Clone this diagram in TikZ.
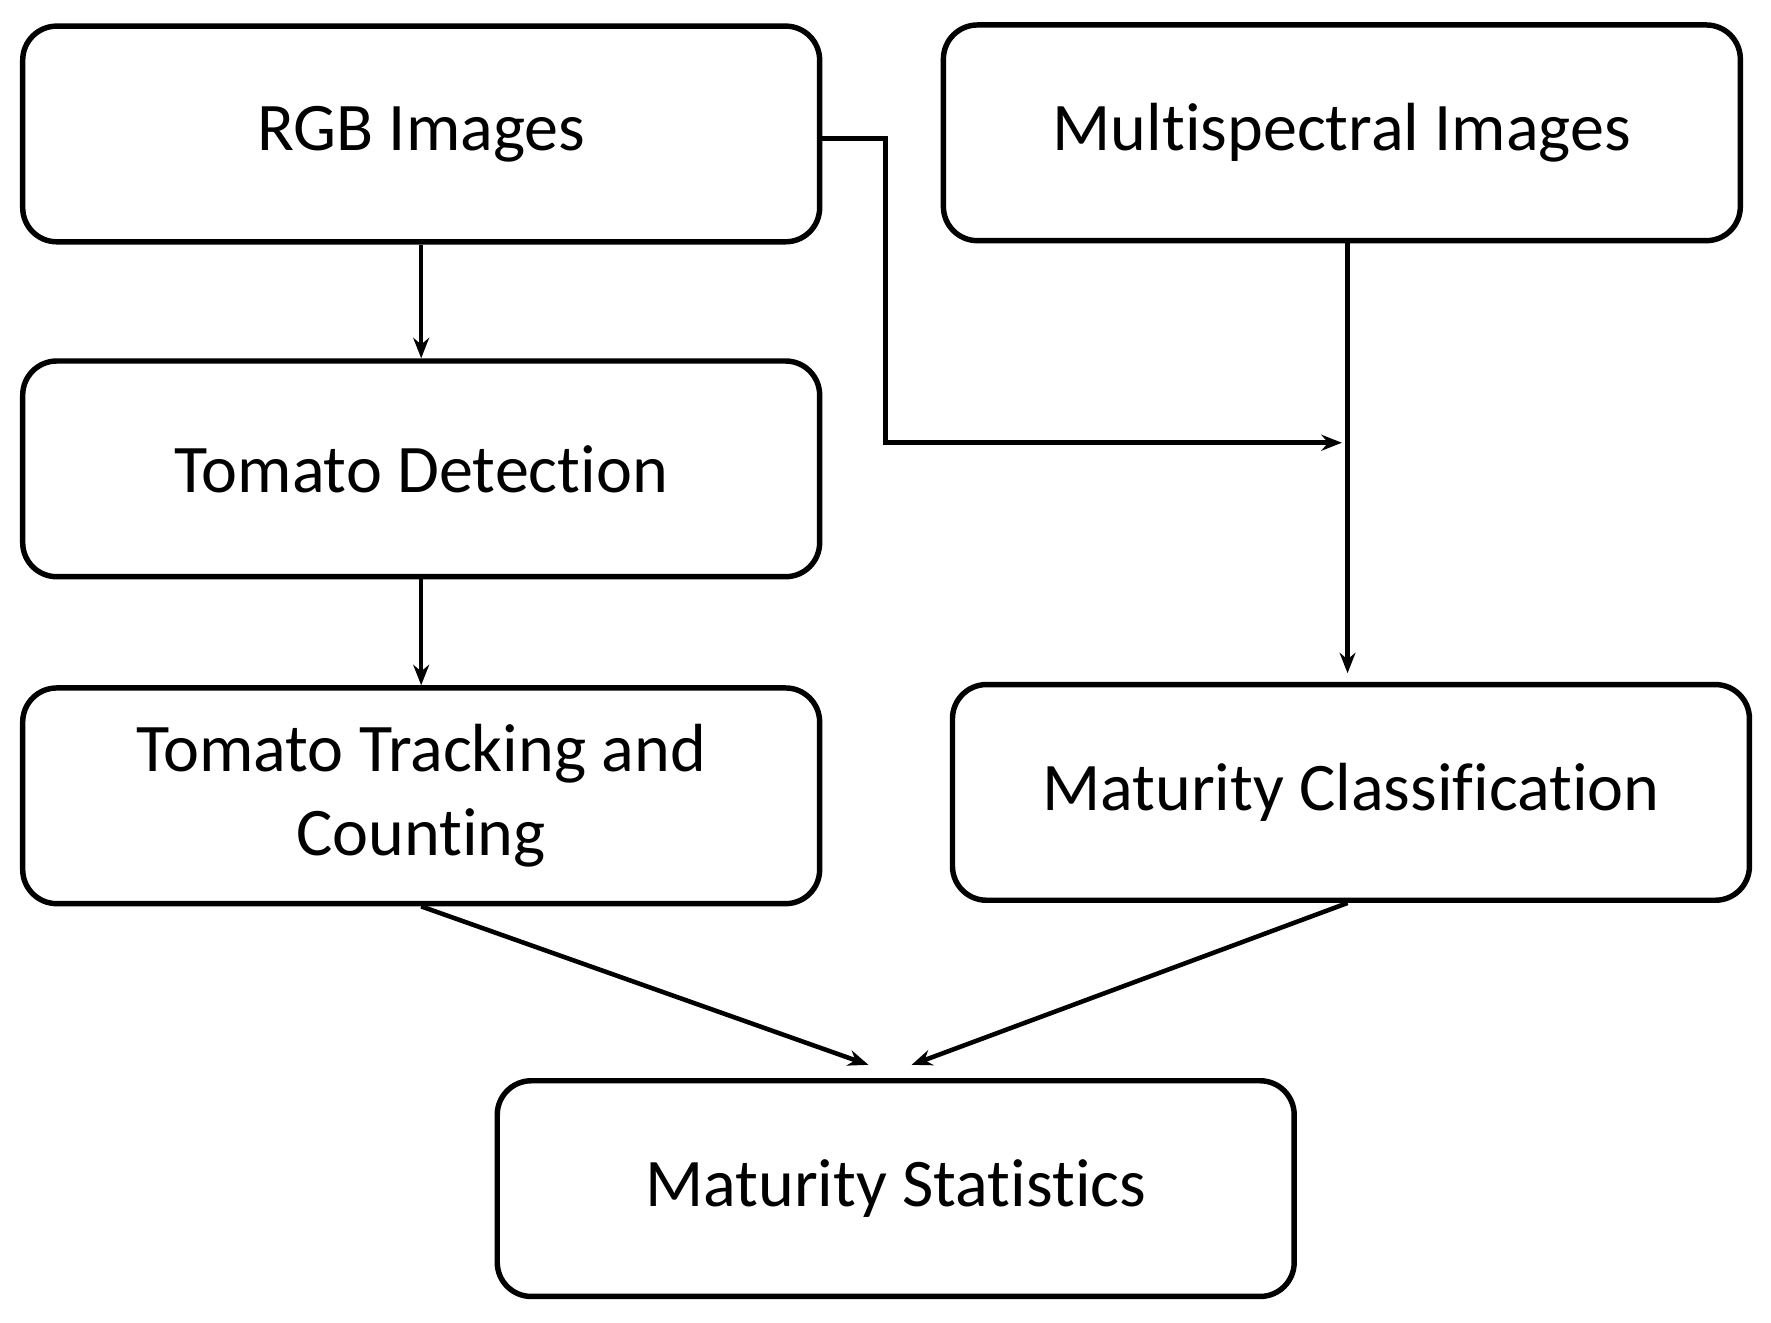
\documentclass[tikz,border=0pt]{standalone}
\usepackage{fontspec}
\setmainfont{Carlito}[Ligatures={NoCommon}]
\usetikzlibrary{arrows.meta}
\begin{document}
\begin{tikzpicture}[x=0.5pt,y=-0.5pt,
  box/.style={draw,line width=2.4pt,rounded corners=15pt,minimum width=351pt,minimum height=95pt,align=center,font=\fontsize{30}{37}\selectfont,inner sep=0pt},
  arr/.style={line width=2pt,-{Stealth[length=9pt,width=7pt]}}]
\useasboundingbox (0,0) rectangle (1560,1165);
\node[box] (rgb) at (371,118) {RGB Images};
\node[box] (ms) at (1182,117) {Multispectral Images};
\node[box] (det) at (371,413) {Tomato Detection};
\node[box] (trk) at (371,701) {Tomato Tracking and\\Counting};
\node[box] (cls) at (1190,698) {Maturity Classification};
\node[box] (st) at (789,1047) {Maturity Statistics};
\coordinate (j) at (1182,390);
\coordinate (m) at (1187,593);
\coordinate (s1) at (765,938);
\coordinate (s2) at (803,938);
\draw[arr] (rgb) -- (det);
\draw[arr] (det) -- (trk);
\draw[arr] (rgb.east |- 0,122) -- (780,122) |- (j);
\draw[arr] (ms.south -| m) -- (m);
\draw[arr] (trk.south) -- (s1);
\draw[arr] (cls.south -| m) -- (s2);
\end{tikzpicture}
\end{document}
